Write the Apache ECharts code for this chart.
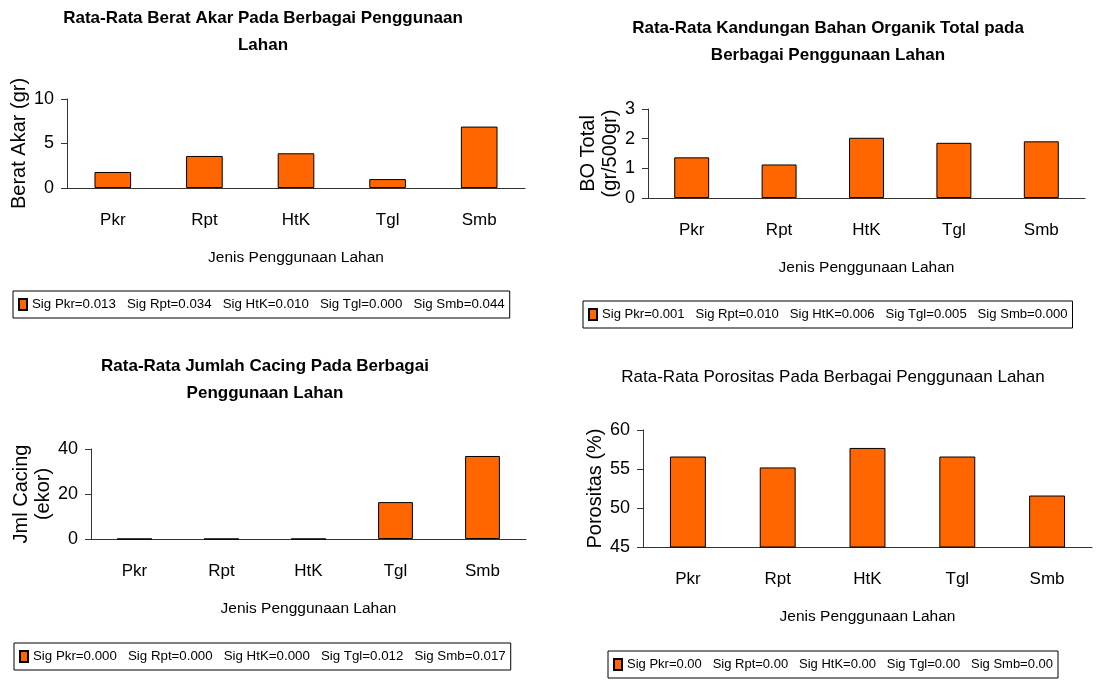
<!DOCTYPE html>
<html>
<head>
<meta charset="utf-8">
<script src="https://cdn.jsdelivr.net/npm/echarts@6/dist/echarts.min.js"></script>
<style>
  html, body { margin: 0; padding: 0; background: #fff; }
  #chart { width: 1110px; height: 680px; }
</style>
</head>
<body>
<div id="chart"></div>
<script>
const categories = ["Pkr", "Rpt", "HtK", "Tgl", "Smb"];

const beratAkar = [1.8, 3.6, 3.9, 1.0, 6.9];
const bahanOrganik = [1.37, 1.13, 2.03, 1.86, 1.91];
const jumlahCacing = [0, 0, 0, 16.4, 36.9];
const porositas = [56.6, 55.2, 57.7, 56.6, 51.6];

const sigAkar = ["Sig Pkr=0.013", "Sig Rpt=0.034", "Sig HtK=0.010", "Sig Tgl=0.000", "Sig Smb=0.044"];
const sigOrganik = ["Sig Pkr=0.001", "Sig Rpt=0.010", "Sig HtK=0.006", "Sig Tgl=0.005", "Sig Smb=0.000"];
const sigCacing = ["Sig Pkr=0.000", "Sig Rpt=0.000", "Sig HtK=0.000", "Sig Tgl=0.012", "Sig Smb=0.017"];
const sigPorositas = ["Sig Pkr=0.00", "Sig Rpt=0.00", "Sig HtK=0.00", "Sig Tgl=0.00", "Sig Smb=0.00"];

const font = "'Liberation Sans', Arial, sans-serif";
const axisColor = "#333";

// one panel = grid + axes + title + legend + bar series
const panels = [
  { title: "Rata-Rata Berat Akar Pada Berbagai Penggunaan\nLahan", bold: true, tx: 263, ty: 5,
    grid: { left: 67, top: 99, width: 458, height: 89 },
    yName: "Berat Akar (gr)", yGap: 35, min: 0, max: 10, interval: 5,
    data: beratAkar, sig: sigAkar, lx: 13, ly: 291, lf: 13.3 },
  { title: "Rata-Rata Kandungan Bahan Organik Total pada\nBerbagai Penggunaan Lahan", bold: true, tx: 828, ty: 15,
    grid: { left: 648, top: 109, width: 437, height: 89 },
    yName: "BO Total\n(gr/500gr)", yGap: 27, min: 0, max: 3, interval: 1,
    data: bahanOrganik, sig: sigOrganik, lx: 583, ly: 301, lf: 13.1 },
  { title: "Rata-Rata Jumlah Cacing Pada Berbagai\nPenggunaan Lahan", bold: true, tx: 265, ty: 353,
    grid: { left: 91, top: 449, width: 435, height: 90 },
    yName: "Jml Cacing\n(ekor)", yGap: 36, min: 0, max: 40, interval: 20,
    data: jumlahCacing, sig: sigCacing, lx: 14, ly: 643, lf: 13.3 },
  { title: "Rata-Rata Porositas Pada Berbagai Penggunaan Lahan", bold: false, tx: 833, ty: 364,
    grid: { left: 643, top: 430, width: 449, height: 117 },
    yName: "Porositas (%)", yGap: 37, min: 45, max: 60, interval: 5,
    data: porositas, sig: sigPorositas, lx: 608, ly: 651, lf: 13 }
];

const chart = echarts.init(document.getElementById("chart"));

chart.setOption({
  animation: false,
  backgroundColor: "#fff",
  title: panels.map(p => ({
    text: p.title,
    left: p.tx,
    top: p.ty,
    textAlign: "center",
    padding: 0,
    textStyle: {
      fontFamily: font,
      fontSize: 17,
      fontWeight: p.bold ? "bold" : "normal",
      lineHeight: 27,
      color: "#000"
    }
  })),
  legend: panels.map(p => ({
    left: p.lx,
    top: p.ly,
    data: [p.sig.join("   ")],
    icon: "rect",
    padding: [7, 5, 7, 5],
    itemWidth: 8,
    itemHeight: 11,
    itemGap: 0,
    borderColor: "#000",
    borderWidth: 1,
    borderRadius: 0,
    textStyle: { fontFamily: font, fontSize: p.lf, color: "#000" }
  })),
  grid: panels.map(p => Object.assign({ containLabel: false }, p.grid)),
  xAxis: panels.map((p, i) => ({
    type: "category",
    gridIndex: i,
    data: categories,
    boundaryGap: true,
    name: "Jenis Penggunaan Lahan",
    nameLocation: "middle",
    nameGap: 62,
    nameTextStyle: { fontFamily: font, fontSize: 15.5, color: "#000" },
    axisLine: { lineStyle: { color: axisColor, width: 1 } },
    axisTick: { length: 7, lineStyle: { color: axisColor } },
    axisLabel: { fontFamily: font, fontSize: 17, color: "#000", margin: 24 }
  })),
  yAxis: panels.map((p, i) => ({
    type: "value",
    gridIndex: i,
    min: p.min,
    max: p.max,
    interval: p.interval,
    name: p.yName,
    nameLocation: "middle",
    nameGap: p.yGap,
    nameTextStyle: { fontFamily: font, fontSize: 20, color: "#000", lineHeight: 22 },
    splitLine: { show: false },
    axisLine: { show: true, lineStyle: { color: axisColor, width: 1 } },
    axisTick: { show: true, length: 6, lineStyle: { color: axisColor } },
    axisLabel: { fontFamily: font, fontSize: 18, color: "#000", margin: 13 }
  })),
  series: panels.map((p, i) => ({
    type: "bar",
    name: p.sig.join("   "),
    xAxisIndex: i,
    yAxisIndex: i,
    data: p.data,
    barWidth: "40%",
    itemStyle: { color: "#FF6600", borderColor: "#000", borderWidth: 1 }
  }))
});
</script>
</body>
</html>
